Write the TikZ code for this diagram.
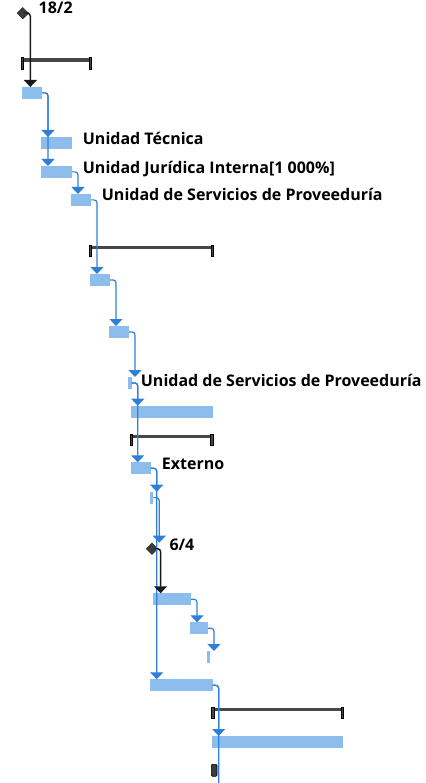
\documentclass[tikz,border=0pt]{standalone}
\usepackage{fontspec}
\setmainfont{Open Sans}
\usepackage{tikz}
\usetikzlibrary{arrows.meta}
\usetikzlibrary{shapes.geometric}
\definecolor{barblue}{HTML}{8CBDEC}
\definecolor{linkblue}{HTML}{2E7FD8}
\definecolor{sumgray}{HTML}{474747}
\definecolor{msgray}{HTML}{3C3C3C}

\begin{document}
\begin{tikzpicture}
[x=1pt,y=-1pt
,bar/.style={rectangle,anchor=north west,fill=barblue,inner sep=0pt,outer sep=0pt,minimum height=11.8pt}
,sumbar/.style={rectangle,anchor=north west,fill=sumgray,inner sep=0pt,outer sep=0pt,minimum height=3.5pt}
,sumcap/.style={rectangle,fill=sumgray,draw=black,line width=0.6pt,inner sep=0pt,outer sep=0pt,minimum width=2.6pt,minimum height=11.5pt}
,ms/.style={diamond,fill=msgray,draw=black!80,line width=0.6pt,inner sep=0pt,minimum size=11.5pt}
,lbl/.style={anchor=base west,inner sep=0pt,font=\bfseries\fontsize{16}{19}\selectfont}
,dep/.style={draw=linkblue,line width=1.2pt,rounded corners=3pt}
,dep arrow/.style={dep,arrows={-Triangle[width=13pt,length=7pt]}}
,msdep/.style={draw=black!90,line width=1.4pt,rounded corners=3pt,arrows={-Triangle[width=13pt,length=7pt]}}
]
\useasboundingbox (0,0) rectangle (425,783);
% milestones
\node[ms] (m1) at (22.8,13.2) {};
\node[lbl] (m1l) at (38.5,14) {18/2};
\node[ms] (m2) at (152,548.7) {};
\node[lbl] (m2l) at (169.3,550) {6/4};
% summary bars
\node[sumbar,minimum width=70.5pt] (s1) at (21,58.3) {};
\node[sumbar,minimum width=124.5pt] (s2) at (89,245.7) {};
\node[sumbar,minimum width=83pt] (s3) at (130,434.5) {};
\node[sumbar,minimum width=131.7pt] (s4) at (211.7,707.7) {};
\foreach \s in {s1,s2,s3,s4}{
  \node[sumcap,anchor=north west] (\s a) at ([yshift=0.6pt]\s.north west) {};
  \node[sumcap,anchor=north east] (\s b) at ([yshift=0.6pt]\s.north east) {};
}
% tasks
\node[bar,minimum width=20pt] (t1) at (22,87) {};
\node[bar,minimum width=31pt] (t2) at (41,137) {};
\node[bar,minimum width=31pt] (t3) at (41,166) {};
\node[bar,minimum width=20pt] (t4) at (71,194) {};
\node[bar,minimum width=20pt] (t5) at (90,274) {};
\node[bar,minimum width=20pt] (t6) at (109,326) {};
\node[bar,minimum width=3.4pt] (t7) at (128.3,377) {};
\node[bar,minimum width=82pt] (t8) at (130.7,405.7) {};
\node[bar,minimum width=20pt] (t9) at (130.7,462.3) {};
\node[bar,minimum width=3.3pt] (t10) at (150,491.7) {};
\node[bar,minimum width=38.3pt] (t11) at (152.7,593.3) {};
\node[bar,minimum width=17.7pt] (t12) at (190.3,622.3) {};
\node[bar,minimum width=3pt] (t13) at (207.3,651) {};
\node[bar,minimum width=62.7pt] (t14) at (150,679.3) {};
\node[bar,minimum width=131.3pt] (t15) at (212,736) {};
\node[rectangle,anchor=north west,fill=msgray,draw=black,line width=0.6pt,rounded corners=1pt,minimum width=5.7pt,minimum height=12pt,inner sep=0pt] (dl) at (211,764) {};
% labels
\node[lbl] (l2) at (82.7,145) {Unidad Técnica};
\node[lbl] (l3) at (82.7,173.3) {Unidad Jurídica Interna[1 000\%]};
\node[lbl] (l4) at (101.7,201) {Unidad de Servicios de Proveeduría};
\node[lbl] (l7) at (140.7,386) {Unidad de Servicios de Proveeduría};
\node[lbl] (l9) at (161.7,469.3) {Externo};
% links
\coordinate (c1) at (218.7,783);
\draw[msdep] (m1.east) -| ([xshift=1.5pt]m1.east |- t1.north);
\draw[dep arrow] (t1.east) -| ([xshift=6pt]t1.east |- t2.north);
\draw[dep arrow] (t1.east) -| ([xshift=6pt]t1.east |- t3.north);
\draw[dep arrow] (t3.east) -| ([xshift=6pt]t3.east |- t4.north);
\draw[dep arrow] (t4.east) -| ([xshift=6pt]t4.east |- t5.north);
\draw[dep arrow] (t5.east) -| ([xshift=6pt]t5.east |- t6.north);
\draw[dep arrow] (t6.east) -| ([xshift=6pt]t6.east |- t7.north);
\draw[dep arrow] (t7.east) -| ([xshift=6pt]t7.east |- t8.north);
\draw[dep arrow] (t7.east) -| ([xshift=6pt]t7.east |- t9.north);
\draw[dep arrow] (t9.east) -| ([xshift=6pt]t9.east |- t10.north);
\draw[dep arrow] (t9.east) -| ([xshift=6pt]t9.east |- t14.north);
\draw[dep arrow] (t10.east) -| ([xshift=6pt]t10.east |- m2.north);
\draw[msdep] (m2.east) -| ([xshift=2.5pt]m2.east |- t11.north);
\draw[dep arrow] (t11.east) -| ([xshift=6pt]t11.east |- t12.north);
\draw[dep arrow] (t12.east) -| ([xshift=6pt]t12.east |- t13.north);
\draw[dep arrow] (t14.east) -| ([xshift=6pt]t14.east |- t15.north);
\draw[dep] (t14.east) -| (c1);
\end{tikzpicture}
\end{document}
